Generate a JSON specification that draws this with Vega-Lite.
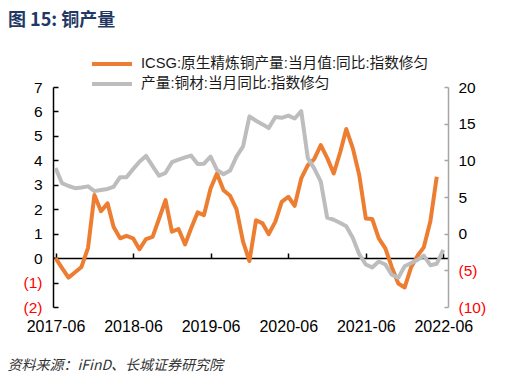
{
  "$schema": "https://vega.github.io/schema/vega-lite/v6.json",
  "width": 395,
  "height": 220,
  "autosize": {"type": "none"},
  "padding": {"left": 53, "top": 87, "right": 61, "bottom": 70},
  "background": "white",
  "title": {
    "text": "图 15:  铜产量",
    "anchor": "start",
    "frame": "group",
    "orient": "top",
    "dx": -45,
    "dy": -24,
    "offset": 0,
    "fontSize": 18,
    "font": "Noto Sans CJK SC",
    "fontWeight": "bold",
    "color": "#1F3864"
  },
  "config": {
    "view": {"stroke": null},
    "axis": {"grid": false, "labelFont": "Liberation Sans", "labelColor": "#000000"}
  },
  "data": {
    "values": [
      {"d": "2017-06-01", "a": 0, "b": 8.96},
      {"d": "2017-07-01", "a": -0.4, "b": 6.9},
      {"d": "2017-08-01", "a": -0.8, "b": 6.5},
      {"d": "2017-09-01", "a": -0.58, "b": 6.2},
      {"d": "2017-10-01", "a": -0.36, "b": 6.3},
      {"d": "2017-11-01", "a": 0.42, "b": 6.45},
      {"d": "2017-12-01", "a": 2.58, "b": 5.8},
      {"d": "2018-01-01", "a": 1.92, "b": 5.95},
      {"d": "2018-02-01", "a": 2.24, "b": 6.1},
      {"d": "2018-03-01", "a": 1.28, "b": 6.37},
      {"d": "2018-04-01", "a": 0.81, "b": 7.7},
      {"d": "2018-05-01", "a": 0.91, "b": 7.7},
      {"d": "2018-06-01", "a": 0.81, "b": 8.8},
      {"d": "2018-07-01", "a": 0.36, "b": 9.8},
      {"d": "2018-08-01", "a": 0.78, "b": 10.6},
      {"d": "2018-09-01", "a": 0.87, "b": 9.2},
      {"d": "2018-10-01", "a": 1.6, "b": 7.9},
      {"d": "2018-11-01", "a": 2.37, "b": 8.3},
      {"d": "2018-12-01", "a": 1.08, "b": 9.75},
      {"d": "2019-01-01", "a": 1.19, "b": 10.1},
      {"d": "2019-02-01", "a": 0.56, "b": 10.4},
      {"d": "2019-03-01", "a": 1.21, "b": 10.65},
      {"d": "2019-04-01", "a": 1.87, "b": 9.5},
      {"d": "2019-05-01", "a": 1.76, "b": 9.55},
      {"d": "2019-06-01", "a": 2.85, "b": 10.5},
      {"d": "2019-07-01", "a": 3.46, "b": 8.7},
      {"d": "2019-08-01", "a": 2.78, "b": 8.1},
      {"d": "2019-09-01", "a": 2.55, "b": 8.6},
      {"d": "2019-10-01", "a": 2.0, "b": 10.5},
      {"d": "2019-11-01", "a": 0.67, "b": 11.9},
      {"d": "2019-12-01", "a": -0.12, "b": 16.0},
      {"d": "2020-01-01", "a": 1.55, "b": 15.4},
      {"d": "2020-02-01", "a": 1.42, "b": 14.9},
      {"d": "2020-03-01", "a": 0.98, "b": 14.4},
      {"d": "2020-04-01", "a": 1.49, "b": 15.9},
      {"d": "2020-05-01", "a": 2.3, "b": 15.8},
      {"d": "2020-06-01", "a": 2.51, "b": 16.1},
      {"d": "2020-07-01", "a": 2.14, "b": 15.7},
      {"d": "2020-08-01", "a": 3.26, "b": 16.7},
      {"d": "2020-09-01", "a": 3.8, "b": 10.3},
      {"d": "2020-10-01", "a": 4.05, "b": 8.9},
      {"d": "2020-11-01", "a": 4.62, "b": 7.1},
      {"d": "2020-12-01", "a": 4.1, "b": 2.2},
      {"d": "2021-01-01", "a": 3.46, "b": 1.9},
      {"d": "2021-02-01", "a": 4.35, "b": 1.45},
      {"d": "2021-03-01", "a": 5.28, "b": 1.0},
      {"d": "2021-04-01", "a": 4.49, "b": -0.6},
      {"d": "2021-05-01", "a": 3.4, "b": -2.8},
      {"d": "2021-06-01", "a": 1.62, "b": -4.2},
      {"d": "2021-07-01", "a": 1.6, "b": -4.6},
      {"d": "2021-08-01", "a": 0.81, "b": -3.8},
      {"d": "2021-09-01", "a": 0.4, "b": -4.2},
      {"d": "2021-10-01", "a": -0.36, "b": -5.6},
      {"d": "2021-11-01", "a": -1.04, "b": -6.0},
      {"d": "2021-12-01", "a": -1.2, "b": -4.45},
      {"d": "2022-01-01", "a": -0.36, "b": -4.0},
      {"d": "2022-02-01", "a": 0.12, "b": -3.55},
      {"d": "2022-03-01", "a": 0.44, "b": -3.0},
      {"d": "2022-04-01", "a": 1.51, "b": -4.3},
      {"d": "2022-05-01", "a": 3.33, "b": -4.1},
      {"d": "2022-06-01", "a": null, "b": -2.2}
    ]
  },
  "layer": [
    {
      "mark": {"type": "line", "strokeWidth": 4, "strokeJoin": "round"},
      "encoding": {
        "x": {
          "field": "d", "type": "temporal",
          "scale": {"type": "utc", "domain": [{"year": 2017, "month": 5, "date": 20, "utc": true}, {"year": 2022, "month": 6, "date": 23, "utc": true}]},
          "axis": {
            "orient": "bottom", "offset": -49,
            "values": [
              {"year": 2017, "month": 6, "date": 1, "utc": true},
              {"year": 2018, "month": 6, "date": 1, "utc": true},
              {"year": 2019, "month": 6, "date": 1, "utc": true},
              {"year": 2020, "month": 6, "date": 1, "utc": true},
              {"year": 2021, "month": 6, "date": 1, "utc": true},
              {"year": 2022, "month": 6, "date": 1, "utc": true}
            ],
            "format": "%Y-%m",
            "domainColor": "#000000", "domainWidth": 1.5,
            "tickColor": "#000000", "tickWidth": 1.5, "tickSize": -5,
            "labelFontSize": 16, "labelBaseline": "middle", "labelPadding": 73,
            "labelFlush": false, "labelOverlap": false,
            "title": "资料来源：iFinD、长城证券研究院",
            "titleFont": "Noto Sans CJK SC", "titleFontStyle": "italic", "titleFontWeight": "normal",
            "titleFontSize": 14, "titleColor": "#333333",
            "titleX": -46, "titleY": 107, "titleAlign": "left", "titleBaseline": "middle"
          }
        },
        "y": {
          "field": "a", "type": "quantitative",
          "scale": {"domain": [-2, 7], "nice": false, "zero": false},
          "axis": {
            "orient": "left", "title": null,
            "values": [-2, -1, 0, 1, 2, 3, 4, 5, 6, 7],
            "labelExpr": "datum.value < 0 ? '(' + format(-datum.value, 'd') + ')' : datum.label",
            "labelColor": {"condition": {"test": "datum.value < 0", "value": "#FF0000"}, "value": "#000000"},
            "labelFontSize": 15.5, "labelPadding": 16,
            "domainColor": "#000000", "domainWidth": 1.5,
            "tickColor": "#000000", "tickWidth": 1.5, "tickSize": -5
          }
        },
        "color": {
          "datum": "ICSG:原生精炼铜产量:当月值:同比:指数修匀",
          "scale": {
            "domain": ["ICSG:原生精炼铜产量:当月值:同比:指数修匀", "产量:铜材:当月同比:指数修匀"],
            "range": ["#ED7D31", "#BDBDBD"]
          },
          "legend": {
            "orient": "none", "legendX": 37, "legendY": -33,
            "title": null, "padding": 0,
            "symbolType": "stroke", "symbolSize": 1600, "symbolStrokeWidth": 4,
            "clipHeight": 20, "rowPadding": 0, "labelOffset": 7,
            "labelFont": "Liberation Sans, Noto Sans CJK SC", "labelFontSize": 14.7, "labelColor": "#1a1a1a",
            "labelLimit": 400
          }
        }
      }
    },
    {
      "mark": {"type": "line", "strokeWidth": 4, "strokeJoin": "round"},
      "encoding": {
        "x": {
          "field": "d", "type": "temporal",
          "scale": {"type": "utc", "domain": [{"year": 2017, "month": 5, "date": 20, "utc": true}, {"year": 2022, "month": 6, "date": 23, "utc": true}]},
          "axis": {
            "orient": "bottom", "offset": -49,
            "values": [
              {"year": 2017, "month": 6, "date": 1, "utc": true},
              {"year": 2018, "month": 6, "date": 1, "utc": true},
              {"year": 2019, "month": 6, "date": 1, "utc": true},
              {"year": 2020, "month": 6, "date": 1, "utc": true},
              {"year": 2021, "month": 6, "date": 1, "utc": true},
              {"year": 2022, "month": 6, "date": 1, "utc": true}
            ],
            "format": "%Y-%m",
            "domainColor": "#000000", "domainWidth": 1.5,
            "tickColor": "#000000", "tickWidth": 1.5, "tickSize": -5,
            "labelFontSize": 16, "labelBaseline": "middle", "labelPadding": 73,
            "labelFlush": false, "labelOverlap": false,
            "title": "资料来源：iFinD、长城证券研究院",
            "titleFont": "Noto Sans CJK SC", "titleFontStyle": "italic", "titleFontWeight": "normal",
            "titleFontSize": 14, "titleColor": "#333333",
            "titleX": -46, "titleY": 107, "titleAlign": "left", "titleBaseline": "middle"
          }
        },
        "y": {
          "field": "b", "type": "quantitative",
          "scale": {"domain": [-10, 20], "nice": false, "zero": false},
          "axis": {
            "orient": "right", "title": null,
            "values": [-10, -5, 0, 5, 10, 15, 20],
            "labelExpr": "datum.value < 0 ? '(' + format(-datum.value, 'd') + ')' : datum.label",
            "labelColor": {"condition": {"test": "datum.value < 0", "value": "#FF0000"}, "value": "#000000"},
            "labelFontSize": 15.5, "labelPadding": 14,
            "domainColor": "#A6A6A6", "domainWidth": 1.5,
            "tickColor": "#A6A6A6", "tickWidth": 1.5, "tickSize": -4
          }
        },
        "color": {"datum": "产量:铜材:当月同比:指数修匀"}
      }
    }
  ],
  "resolve": {"scale": {"y": "independent"}, "axis": {"y": "independent"}}
}
